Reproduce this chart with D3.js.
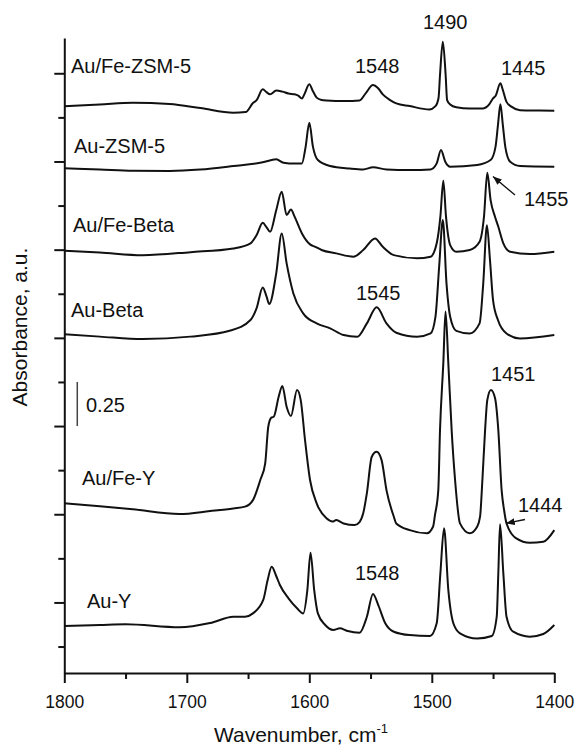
<!DOCTYPE html>
<html>
<head>
<meta charset="utf-8">
<script src="https://d3js.org/d3.v7.min.js"></script>
<style>
  html, body { margin: 0; padding: 0; background: #fff; }
  svg { display: block; }
  text { font-family: "Liberation Sans", Arial, Helvetica, sans-serif; fill: #111; }
</style>
</head>
<body>
<script>
// ---------------- data (wavenumber cm-1, absorbance incl. stacking offset) ----------------
const seriesNames = ["Au/Fe-ZSM-5", "Au-ZSM-5", "Au/Fe-Beta", "Au-Beta", "Au/Fe-Y", "Au-Y"];

const auFeZSM5 = [
  [1800,2.813],[1771,2.823],[1744,2.833],[1714,2.826],[1689,2.803],[1662,2.776],[1652,2.780],
  [1646,2.831],[1643,2.848],[1638,2.909],[1635,2.893],[1632,2.881],[1627,2.902],[1622,2.896],
  [1617,2.885],[1612,2.881],[1609,2.873],[1606,2.857],[1604,2.881],[1600,2.938],[1597,2.898],
  [1594,2.862],[1590,2.849],[1586,2.846],[1571,2.843],[1559,2.846],[1554,2.886],[1548,2.933],
  [1544,2.917],[1540,2.880],[1534,2.848],[1529,2.829],[1518,2.814],[1502,2.795],[1497,2.814],
  [1494.5,2.860],[1493.3,2.990],[1491,3.179],[1488.7,2.990],[1487.5,2.848],[1485,2.823],
  [1480,2.807],[1469,2.800],[1458,2.801],[1453,2.825],[1450,2.858],[1448,2.871],[1444,2.943],
  [1442,2.905],[1439,2.838],[1435,2.811],[1428,2.791],[1412,2.789],[1400,2.788]
];

const auZSM5 = [
  [1800,2.461],[1771,2.454],[1744,2.447],[1714,2.446],[1689,2.454],[1662,2.474],[1638,2.495],
  [1627,2.512],[1621,2.493],[1612,2.488],[1606,2.489],[1603,2.583],[1600,2.719],[1597,2.583],
  [1593,2.508],[1583,2.474],[1567,2.460],[1556,2.455],[1548,2.467],[1537,2.455],[1518,2.452],
  [1501,2.455],[1496,2.489],[1492.5,2.565],[1489,2.498],[1485,2.470],[1463,2.480],[1452,2.508],
  [1448,2.583],[1446,2.706],[1444,2.825],[1442,2.706],[1440,2.583],[1436,2.498],[1428,2.474],
  [1400,2.470]
];

const auFeBeta = [
  [1800,1.994],[1771,1.984],[1736,1.969],[1697,1.986],[1662,2.007],[1648,2.036],[1643,2.083],
  [1638,2.152],[1635,2.128],[1632,2.101],[1627,2.224],[1622.5,2.328],[1618.5,2.196],[1615,2.228],
  [1612,2.187],[1606,2.092],[1599.4,2.030],[1595,2.016],[1590,1.998],[1578,1.979],[1564,1.960],
  [1556,1.998],[1546.4,2.064],[1540,2.016],[1531,1.969],[1512,1.951],[1501,1.960],[1496,2.036],
  [1493,2.187],[1490.6,2.391],[1488.4,2.187],[1485,2.026],[1480,1.988],[1469,1.998],[1461,2.045],
  [1457.4,2.187],[1454.7,2.436],[1452,2.281],[1448.4,2.187],[1445.7,2.130],[1441.6,2.036],
  [1436,1.988],[1420,1.975],[1400,1.988]
];

const auBeta = [
  [1800,1.520],[1771,1.507],[1736,1.493],[1697,1.507],[1665,1.540],[1648,1.601],[1643,1.669],
  [1638,1.786],[1635,1.737],[1632.7,1.692],[1627,1.866],[1622.5,2.092],[1618.5,1.922],[1613,1.752],
  [1605,1.639],[1594,1.582],[1583,1.554],[1572,1.516],[1561,1.506],[1553,1.582],[1545,1.673],
  [1537,1.582],[1529,1.529],[1512,1.506],[1501,1.525],[1497,1.620],[1494,1.903],[1491,2.168],
  [1488,1.809],[1485,1.620],[1480,1.540],[1469,1.525],[1461,1.582],[1458,1.809],[1455,2.139],
  [1452.5,1.941],[1450,1.714],[1446,1.601],[1439,1.525],[1428,1.497],[1400,1.516]
];

const auFeY = [
  [1800,0.562],[1771,0.546],[1744,0.528],[1706,0.501],[1681,0.518],[1662,0.533],[1652.5,0.543],
  [1646,0.580],[1640,0.694],[1636,0.789],[1633.5,0.996],[1631,1.048],[1629,1.053],[1625,1.166],
  [1622,1.227],[1618.5,1.109],[1615,1.057],[1610,1.204],[1607,1.147],[1603.5,0.921],[1599.4,0.694],
  [1594,0.562],[1586,0.477],[1581,0.459],[1578,0.467],[1572,0.448],[1563,0.439],[1559,0.456],
  [1556,0.505],[1553,0.620],[1549,0.826],[1545,0.854],[1541,0.807],[1537,0.637],[1531,0.486],
  [1529,0.448],[1518,0.410],[1504,0.392],[1499,0.429],[1497.4,0.496],[1494.7,0.637],[1493.3,0.977],
  [1490.6,1.357],[1488.8,1.649],[1486.5,1.355],[1483.8,0.977],[1481,0.694],[1477,0.448],
  [1469,0.392],[1463,0.429],[1460.6,0.486],[1458.7,0.694],[1456.5,0.977],[1454.7,1.147],
  [1451.7,1.204],[1448.4,1.159],[1445.7,0.977],[1443,0.637],[1441,0.524],[1439,0.448],
  [1431,0.363],[1420,0.338],[1409,0.344],[1400,0.410]
];

const auY = [
  [1800,-0.134],[1771,-0.128],[1750,-0.124],[1706,-0.141],[1681,-0.117],[1662,-0.081],[1652.5,-0.081],
  [1646,-0.062],[1637.6,0.014],[1634,0.127],[1630.7,0.202],[1627,0.150],[1624,0.099],[1617,0.023],
  [1610,-0.033],[1605,-0.062],[1601.6,0.070],[1599,0.282],[1596,0.070],[1593,-0.062],[1587,-0.128],
  [1580.4,-0.156],[1575,-0.147],[1569.5,-0.160],[1559,-0.172],[1553,-0.081],[1548,0.048],
  [1543.7,-0.015],[1538,-0.118],[1531,-0.166],[1518,-0.185],[1501.5,-0.190],[1496,-0.118],
  [1493,0.165],[1490,0.420],[1486.5,0.070],[1482.4,-0.118],[1477,-0.175],[1463,-0.204],
  [1451,-0.190],[1447,-0.081],[1445.7,0.165],[1444.3,0.443],[1441.6,0.165],[1439,-0.081],
  [1433.5,-0.166],[1420,-0.194],[1409,-0.179],[1400,-0.128]
];

const allSeries = [auFeZSM5, auZSM5, auFeBeta, auBeta, auFeY, auY];

// axis ticks
const xMajorTicks = [1800, 1700, 1600, 1500, 1400];
const xMinorTicks = [1750, 1650, 1550, 1450];
const yMajorTicks = [0, 0.5, 1.0, 1.5, 2.0, 2.5, 3.0];
const yMinorTicks = [-0.25, 0.25, 0.75, 1.25, 1.75, 2.25, 2.75];
const scaleBar = [1.0, 1.25];      // absorbance span of the 0.25 scale bar
const scaleBarText = "0.25";

// peak annotations
const peakLabels = ["1490", "1548", "1445", "1455", "1545", "1451", "1444", "1548"];

// ---------------- layout ----------------
const W = 576, H = 746;
const svg = d3.select("body").append("svg").attr("width", W).attr("height", H);

const x = d3.scaleLinear().domain([1800, 1400]).range([64.3, 554.3]);
const y = d3.scaleLinear().domain([-0.4, 3.2]).range([673, 38]);

const ink = "#111";

// axes
const xAxis = svg.append("g").attr("transform", "translate(0,673)")
  .call(d3.axisBottom(x).tickValues(xMajorTicks).tickSize(10).tickSizeOuter(0).tickPadding(12.5)
        .tickFormat(d3.format("d")));
svg.append("g").attr("transform", "translate(0,673)")
  .call(d3.axisBottom(x).tickValues(xMinorTicks).tickSize(6).tickSizeOuter(0).tickFormat(""))
  .select(".domain").remove();

const yAxis = svg.append("g").attr("transform", "translate(64.3,0)")
  .call(d3.axisLeft(y).tickValues(yMajorTicks).tickSize(10).tickSizeOuter(0).tickFormat(""));
svg.append("g").attr("transform", "translate(64.3,0)")
  .call(d3.axisLeft(y).tickValues(yMinorTicks).tickSize(6).tickSizeOuter(0).tickFormat(""))
  .select(".domain").remove();

svg.selectAll(".domain, .tick line").attr("stroke", ink).attr("stroke-width", 2);
xAxis.selectAll(".tick text")
  .attr("font-family", '"Liberation Sans", Arial, sans-serif')
  .attr("font-size", 17.5).attr("fill", ink);

// axis titles
const xt = svg.append("text").attr("x", 301).attr("y", 742).attr("text-anchor", "middle")
  .attr("font-size", 21);
xt.append("tspan").text("Wavenumber, cm");
xt.append("tspan").attr("dy", -9).attr("font-size", 13).text("-1");

svg.append("text").attr("transform", "translate(27,327) rotate(-90)")
  .attr("text-anchor", "middle").attr("font-size", 21).text("Absorbance, a.u.");

// spectra
const line = d3.line().x(d => x(d[0])).y(d => y(d[1])).curve(d3.curveMonotoneX);
svg.append("g").selectAll("path").data(allSeries).join("path")
  .attr("d", line).attr("fill", "none").attr("stroke", ink)
  .attr("stroke-width", 2).attr("stroke-linejoin", "round");

// series labels
const seriesLabelPos = [[71, 73], [74, 153], [73, 232], [71, 317], [82, 485], [87, 608]];
svg.append("g").selectAll("text").data(seriesNames).join("text")
  .attr("x", (d, i) => seriesLabelPos[i][0]).attr("y", (d, i) => seriesLabelPos[i][1])
  .attr("font-size", 20).text(d => d);

// scale bar
svg.append("line").attr("x1", x(1789.4)).attr("x2", x(1789.4))
  .attr("y1", y(scaleBar[0])).attr("y2", y(scaleBar[1]))
  .attr("stroke", "#444").attr("stroke-width", 1.5);
svg.append("text").attr("x", 86).attr("y", 412).attr("font-size", 20).text(scaleBarText);

// peak labels
const peakLabelPos = [[423, 29], [355, 73], [501, 75], [524, 206], [356, 300], [491, 381], [518, 512], [355, 580]];
svg.append("g").selectAll("text").data(peakLabels).join("text")
  .attr("x", (d, i) => peakLabelPos[i][0]).attr("y", (d, i) => peakLabelPos[i][1])
  .attr("font-size", 20).text(d => d);

// arrows
svg.append("defs").append("marker").attr("id", "ah")
  .attr("viewBox", "0 0 10 8").attr("refX", 10).attr("refY", 4)
  .attr("markerWidth", 9).attr("markerHeight", 7).attr("markerUnits", "userSpaceOnUse")
  .attr("orient", "auto")
  .append("path").attr("d", "M0,0 L10,4 L0,8 Z").attr("fill", ink);

const arrows = [[[515, 195], [493, 176.5]], [[525, 519.5], [506, 523.3]]];
svg.append("g").selectAll("line").data(arrows).join("line")
  .attr("x1", d => d[0][0]).attr("y1", d => d[0][1])
  .attr("x2", d => d[1][0]).attr("y2", d => d[1][1])
  .attr("stroke", ink).attr("stroke-width", 1.4).attr("marker-end", "url(#ah)");
</script>
</body>
</html>
